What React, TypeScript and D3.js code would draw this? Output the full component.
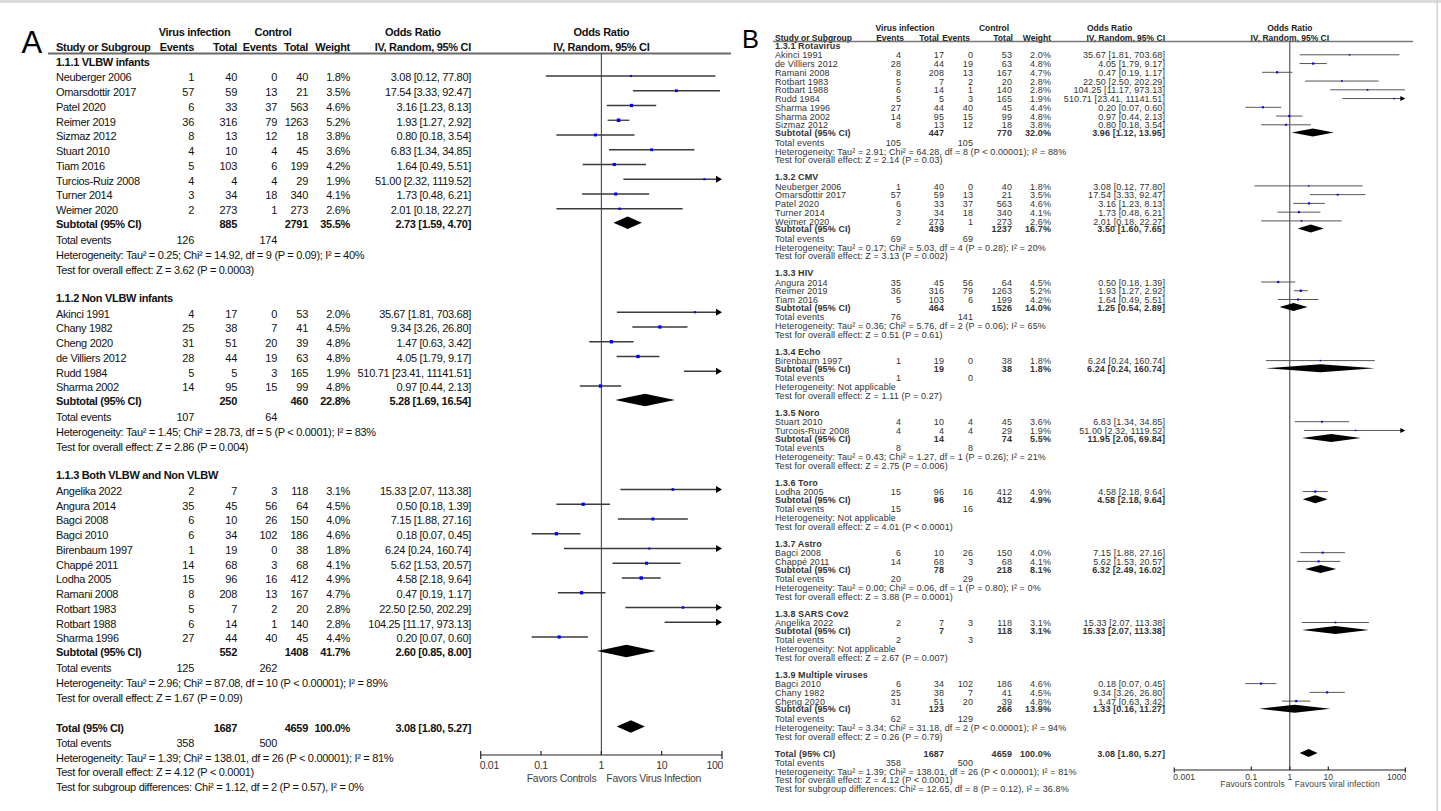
import React from 'react';
import * as d3 from 'd3';

// [study, virus events, virus total, control events, control total, weight %, OR, lower, upper]
const studies: [string, number, number, number, number, number, number, number, number][] = [
  ['Neuberger 2006', 1, 40, 0, 40, 1.8, 3.08, 0.12, 77.8],
  ['Omarsdottir 2017', 57, 59, 13, 21, 3.5, 17.54, 3.33, 92.47],
  ['Patel 2020', 6, 33, 37, 563, 4.6, 3.16, 1.23, 8.13],
  ['Reimer 2019', 36, 316, 79, 1263, 5.2, 1.93, 1.27, 2.92],
  ['Sizmaz 2012', 8, 13, 12, 18, 3.8, 0.8, 0.18, 3.54],
  ['Stuart 2010', 4, 10, 4, 45, 3.6, 6.83, 1.34, 34.85],
  ['Tiam 2016', 5, 103, 6, 199, 4.2, 1.64, 0.49, 5.51],
  ['Turcios-Ruiz 2008', 4, 4, 4, 29, 1.9, 51.0, 2.32, 1119.52],
  ['Turner 2014', 3, 34, 18, 340, 4.1, 1.73, 0.48, 6.21],
  ['Weimer 2020', 2, 273, 1, 273, 2.6, 2.01, 0.18, 22.27],
  ['Akinci 1991', 4, 17, 0, 53, 2.0, 35.67, 1.81, 703.68],
  ['Chany 1982', 25, 38, 7, 41, 4.5, 9.34, 3.26, 26.8],
  ['Cheng 2020', 31, 51, 20, 39, 4.8, 1.47, 0.63, 3.42],
  ['de Villiers 2012', 28, 44, 19, 63, 4.8, 4.05, 1.79, 9.17],
  ['Rudd 1984', 5, 5, 3, 165, 1.9, 510.71, 23.41, 11141.51],
  ['Sharma 2002', 14, 95, 15, 99, 4.8, 0.97, 0.44, 2.13],
  ['Angelika 2022', 2, 7, 3, 118, 3.1, 15.33, 2.07, 113.38],
  ['Angura 2014', 35, 45, 56, 64, 4.5, 0.5, 0.18, 1.39],
  ['Bagci 2008', 6, 10, 26, 150, 4.0, 7.15, 1.88, 27.16],
  ['Bagci 2010', 6, 34, 102, 186, 4.6, 0.18, 0.07, 0.45],
  ['Birenbaum 1997', 1, 19, 0, 38, 1.8, 6.24, 0.24, 160.74],
  ['Chappé 2011', 14, 68, 3, 68, 4.1, 5.62, 1.53, 20.57],
  ['Lodha 2005', 15, 96, 16, 412, 4.9, 4.58, 2.18, 9.64],
  ['Ramani 2008', 8, 208, 13, 167, 4.7, 0.47, 0.19, 1.17],
  ['Rotbart 1983', 5, 7, 2, 20, 2.8, 22.5, 2.5, 202.29],
  ['Rotbart 1988', 6, 14, 1, 140, 2.8, 104.25, 11.17, 973.13],
  ['Sharma 1996', 27, 44, 40, 45, 4.4, 0.2, 0.07, 0.6],
];

// subtotal: [virus total, control total, weight, OR, lower, upper]
const groupsA = [
  {
    title: '1.1.1 VLBW infants',
    members: ['Neuberger 2006', 'Omarsdottir 2017', 'Patel 2020', 'Reimer 2019', 'Sizmaz 2012', 'Stuart 2010', 'Tiam 2016', 'Turcios-Ruiz 2008', 'Turner 2014', 'Weimer 2020'],
    subtotal: [885, 2791, 35.5, 2.73, 1.59, 4.7],
    events: [126, 174],
    het: 'Heterogeneity: Tau² = 0.25; Chi² = 14.92, df = 9 (P = 0.09); I² = 40%',
    test: 'Test for overall effect: Z = 3.62 (P = 0.0003)',
  },
  {
    title: '1.1.2 Non VLBW infants',
    members: ['Akinci 1991', 'Chany 1982', 'Cheng 2020', 'de Villiers 2012', 'Rudd 1984', 'Sharma 2002'],
    subtotal: [250, 460, 22.8, 5.28, 1.69, 16.54],
    events: [107, 64],
    het: 'Heterogeneity: Tau² = 1.45; Chi² = 28.73, df = 5 (P < 0.0001); I² = 83%',
    test: 'Test for overall effect: Z = 2.86 (P = 0.004)',
  },
  {
    title: '1.1.3 Both VLBW and Non VLBW',
    members: ['Angelika 2022', 'Angura 2014', 'Bagci 2008', 'Bagci 2010', 'Birenbaum 1997', 'Chappé 2011', 'Lodha 2005', 'Ramani 2008', 'Rotbart 1983', 'Rotbart 1988', 'Sharma 1996'],
    subtotal: [552, 1408, 41.7, 2.6, 0.85, 8.0],
    events: [125, 262],
    het: 'Heterogeneity: Tau² = 2.96; Chi² = 87.08, df = 10 (P < 0.00001); I² = 89%',
    test: 'Test for overall effect: Z = 1.67 (P = 0.09)',
  },
];

const totalA = {
  subtotal: [1687, 4659, 100.0, 3.08, 1.8, 5.27],
  events: [358, 500],
  het: 'Heterogeneity: Tau² = 1.39; Chi² = 138.01, df = 26 (P < 0.00001); I² = 81%',
  test: 'Test for overall effect: Z = 4.12 (P < 0.0001)',
  diff: 'Test for subgroup differences: Chi² = 1.12, df = 2 (P = 0.57), I² = 0%',
};

const groupsB = [
  {
    title: '1.3.1 Rotavirus',
    members: ['Akinci 1991', 'de Villiers 2012', 'Ramani 2008', 'Rotbart 1983', 'Rotbart 1988', 'Rudd 1984', 'Sharma 1996', 'Sharma 2002', 'Sizmaz 2012'],
    subtotal: [447, 770, 32.0, 3.96, 1.12, 13.95],
    events: [105, 105],
    het: 'Heterogeneity: Tau² = 2.91; Chi² = 64.28, df = 8 (P < 0.00001); I² = 88%',
    test: 'Test for overall effect: Z = 2.14 (P = 0.03)',
  },
  {
    title: '1.3.2 CMV',
    members: ['Neuberger 2006', 'Omarsdottir 2017', 'Patel 2020', 'Turner 2014', 'Weimer 2020'],
    subtotal: [439, 1237, 16.7, 3.5, 1.6, 7.65],
    events: [69, 69],
    het: 'Heterogeneity: Tau² = 0.17; Chi² = 5.03, df = 4 (P = 0.28); I² = 20%',
    test: 'Test for overall effect: Z = 3.13 (P = 0.002)',
  },
  {
    title: '1.3.3 HIV',
    members: ['Angura 2014', 'Reimer 2019', 'Tiam 2016'],
    subtotal: [464, 1526, 14.0, 1.25, 0.54, 2.89],
    events: [76, 141],
    het: 'Heterogeneity: Tau² = 0.36; Chi² = 5.76, df = 2 (P = 0.06); I² = 65%',
    test: 'Test for overall effect: Z = 0.51 (P = 0.61)',
  },
  {
    title: '1.3.4 Echo',
    members: ['Birenbaum 1997'],
    subtotal: [19, 38, 1.8, 6.24, 0.24, 160.74],
    events: [1, 0],
    het: 'Heterogeneity: Not applicable',
    test: 'Test for overall effect: Z = 1.11 (P = 0.27)',
  },
  {
    title: '1.3.5 Noro',
    members: ['Stuart 2010', 'Turcios-Ruiz 2008'],
    subtotal: [14, 74, 5.5, 11.95, 2.05, 69.84],
    events: [8, 8],
    het: 'Heterogeneity: Tau² = 0.43; Chi² = 1.27, df = 1 (P = 0.26); I² = 21%',
    test: 'Test for overall effect: Z = 2.75 (P = 0.006)',
  },
  {
    title: '1.3.6 Toro',
    members: ['Lodha 2005'],
    subtotal: [96, 412, 4.9, 4.58, 2.18, 9.64],
    events: [15, 16],
    het: 'Heterogeneity: Not applicable',
    test: 'Test for overall effect: Z = 4.01 (P < 0.0001)',
  },
  {
    title: '1.3.7 Astro',
    members: ['Bagci 2008', 'Chappé 2011'],
    subtotal: [78, 218, 8.1, 6.32, 2.49, 16.02],
    events: [20, 29],
    het: 'Heterogeneity: Tau² = 0.00; Chi² = 0.06, df = 1 (P = 0.80); I² = 0%',
    test: 'Test for overall effect: Z = 3.88 (P = 0.0001)',
  },
  {
    title: '1.3.8 SARS Cov2',
    members: ['Angelika 2022'],
    subtotal: [7, 118, 3.1, 15.33, 2.07, 113.38],
    events: [2, 3],
    het: 'Heterogeneity: Not applicable',
    test: 'Test for overall effect: Z = 2.67 (P = 0.007)',
  },
  {
    title: '1.3.9 Multiple viruses',
    members: ['Bagci 2010', 'Chany 1982', 'Cheng 2020'],
    subtotal: [123, 266, 13.9, 1.33, 0.16, 11.27],
    events: [62, 129],
    het: 'Heterogeneity: Tau² = 3.34; Chi² = 31.18, df = 2 (P < 0.00001); I² = 94%',
    test: 'Test for overall effect: Z = 0.26 (P = 0.79)',
  },
];

const totalB = {
  subtotal: [1687, 4659, 100.0, 3.08, 1.8, 5.27],
  events: [358, 500],
  het: 'Heterogeneity: Tau² = 1.39; Chi² = 138.01, df = 26 (P < 0.00001); I² = 81%',
  test: 'Test for overall effect: Z = 4.12 (P < 0.0001)',
  diff: 'Test for subgroup differences: Chi² = 12.65, df = 8 (P = 0.12), I² = 36.8%',
};

const renameB: Record<string, string> = { 'Turcios-Ruiz 2008': 'Turcois-Ruiz 2008' };

const ticksA = [0.01, 0.1, 1, 10, 100];
const tickLabelsA = ['0.01', '0.1', '1', '10', '100'];
const ticksB = [0.001, 0.1, 1, 10, 1000];
const tickLabelsB = ['0.001', '0.1', '1', '10', '1000'];

const cfgA = {
  fontSize: 11, ls: -0.3, color: '#111', hdrColor: '#111', hdrFont: 11, hdrLs: -0.3,
  nameX: 56, evR: 194, totR: 237, cevR: 277, ctotR: 308, wR: 350, orR: 471,
  hdr1: 32.3, hdr2: 47.3,
  hdrCols: { virus: 194.5, control: 273, orStart: 385, ev: 194, tot: 237, cev: 277, ctot: 308, w: 350, or: 471 },
  lineY: 53.5, lineX1: 48, lineX2: 731, lineColor: '#6a6a6a', lineW: 2,
  firstHeading: 62, headToStudy: 15.5, step: 14.75, studyToSub: 14, subToTE: 16, teToHet: 15, hetToTest: 14.7, testToNext: 28.3,
  totalExtra: 1.5, totTE: 15, totHet: 15, totTest: 14.5, totDiff: 14.5,
  domain: [0.01, 100], range: [480.7, 722], axisY: 755,
  ticks: ticksA, tickLabels: tickLabelsA, tickFont: 10.5, tickLabelY: 765, favY: 778,
  favL: 'Favors Controls', favR: 'Favors Virus Infection', favColor: '#444',
  markOff: -1.5, diaH: 12.5, sqBase: 1.2, sqK: 0.45, arrowL: 6, arrowW: 3.5, ciW: 1.3, ciColor: '#3a3a3a',
  endTick: [4, 4], innerTick: [4, 0],
  rename: {} as Record<string, string>,
};

const cfgB = {
  fontSize: 9, ls: 0.1, color: '#333', hdrColor: '#222', hdrFont: 8.5, hdrLs: 0,
  nameX: 775, evR: 901, totR: 944, cevR: 973, ctotR: 1012, wR: 1051, orR: 1165,
  hdr1: 28, hdr2: 37.7,
  hdrCols: { virus: 905, control: 994, orStart: 1087, ev: 904, tot: 939, cev: 970, ctot: 1013, w: 1051, or: 1165 },
  lineY: 41.5, lineX1: 773, lineX2: 1413, lineColor: '#777', lineW: 1.5,
  firstHeading: 46, headToStudy: 9.3, step: 8.75, studyToSub: 7.6, subToTE: 9.6, teToHet: 9, hetToTest: 8.6, testToNext: 17,
  totalExtra: 0, totTE: 9.6, totHet: 8.6, totTest: 8.4, totDiff: 9,
  domain: [0.001, 1000], range: [1174.3, 1405.3], axisY: 770,
  ticks: ticksB, tickLabels: tickLabelsB, tickFont: 8.5, tickLabelY: 776.7, favY: 784,
  favL: 'Favours controls', favR: 'Favours viral infection', favColor: '#444',
  markOff: -0.5, diaH: 8, sqBase: 1.0, sqK: 0.25, arrowL: 5, arrowW: 2.5, ciW: 1, ciColor: '#555',
  endTick: [2.5, 2.5], innerTick: [3.5, 0],
  rename: renameB,
};

const f2 = (v: number) => v.toFixed(2);
const orText = (o: number, l: number, h: number) => `${f2(o)} [${f2(l)}, ${f2(h)}]`;

function Panel({ cfg, groups, total }: any) {
  const x = d3.scaleLog().domain(cfg.domain).range(cfg.range);
  const [dmin, dmax] = cfg.domain;
  const els: any[] = [];
  let k = 0;
  const T = (tx: number, ty: number, s: string, anchor = 'start', bold = false, extra: any = {}) => {
    els.push(
      <text key={k++} x={tx} y={ty} dy="0.35em" textAnchor={anchor} fontWeight={bold ? 'bold' : 'normal'}
        fontSize={cfg.fontSize} letterSpacing={cfg.ls} fill={cfg.color} {...extra}>{s}</text>
    );
  };
  const H = cfg.hdrCols;
  const hx = { fill: cfg.hdrColor, fontSize: cfg.hdrFont, letterSpacing: cfg.hdrLs };
  // header
  T(H.virus, cfg.hdr1, 'Virus infection', 'middle', true, hx);
  T(H.control, cfg.hdr1, 'Control', 'middle', true, hx);
  T(H.orStart, cfg.hdr1, 'Odds Ratio', 'start', true, hx);
  T(cfg.nameX, cfg.hdr2, 'Study or Subgroup', 'start', true, hx);
  T(H.ev, cfg.hdr2, 'Events', 'end', true, hx);
  T(H.tot, cfg.hdr2, 'Total', 'end', true, hx);
  T(H.cev, cfg.hdr2, 'Events', 'end', true, hx);
  T(H.ctot, cfg.hdr2, 'Total', 'end', true, hx);
  T(H.w, cfg.hdr2, 'Weight', 'end', true, hx);
  T(H.or, cfg.hdr2, 'IV, Random, 95% CI', 'end', true, hx);
  T(x(1), cfg.hdr1, 'Odds Ratio', 'middle', true, hx);
  T(x(1), cfg.hdr2, 'IV, Random, 95% CI', 'middle', true, hx);
  els.push(<line key={k++} x1={cfg.lineX1} x2={cfg.lineX2} y1={cfg.lineY} y2={cfg.lineY} stroke={cfg.lineColor} strokeWidth={cfg.lineW} />);
  // centre line
  els.push(<line key={k++} x1={x(1)} x2={x(1)} y1={cfg.lineY} y2={cfg.axisY} stroke="#333" strokeWidth={1} />);

  const diamond = (yy: number, o: number, l: number, h: number) => {
    const yc = yy + cfg.markOff;
    const pts = [[x(l), yc], [x(o), yc - cfg.diaH / 2], [x(h), yc], [x(o), yc + cfg.diaH / 2]];
    els.push(<polygon key={k++} points={pts.map((p) => p.join(',')).join(' ')} fill="#000" />);
  };

  const summary = (yy: number, label: string, sub: number[]) => {
    T(cfg.nameX, yy, label, 'start', true);
    T(cfg.totR, yy, String(sub[0]), 'end', true);
    T(cfg.ctotR, yy, String(sub[1]), 'end', true);
    T(cfg.wR, yy, `${sub[2].toFixed(1)}%`, 'end', true);
    T(cfg.orR, yy, orText(sub[3], sub[4], sub[5]), 'end', true);
    diamond(yy, sub[3], sub[4], sub[5]);
  };

  let y = cfg.firstHeading;
  groups.forEach((g: any) => {
    T(cfg.nameX, y, g.title, 'start', true);
    y += cfg.headToStudy;
    g.members.forEach((m: string, i: number) => {
      if (i > 0) y += cfg.step;
      const s = studies.find((r) => r[0] === m)!;
      const [, ev, tot, cev, ctot, w, o, lo, hi] = s;
      T(cfg.nameX, y, cfg.rename[m] || m);
      T(cfg.evR, y, String(ev), 'end');
      T(cfg.totR, y, String(tot), 'end');
      T(cfg.cevR, y, String(cev), 'end');
      T(cfg.ctotR, y, String(ctot), 'end');
      T(cfg.wR, y, `${w.toFixed(1)}%`, 'end');
      T(cfg.orR, y, orText(o, lo, hi), 'end');
      const yc = y + cfg.markOff;
      const arrow = hi > dmax;
      const xa = x(Math.max(lo, dmin));
      const xb = arrow ? x(dmax) - cfg.arrowL + 1 : x(hi);
      els.push(<line key={k++} x1={xa} x2={xb} y1={yc} y2={yc} stroke={cfg.ciColor} strokeWidth={cfg.ciW} />);
      if (arrow) {
        const xe = x(dmax);
        els.push(<polygon key={k++} points={`${xe},${yc} ${xe - cfg.arrowL},${yc - cfg.arrowW} ${xe - cfg.arrowL},${yc + cfg.arrowW}`} fill="#000" />);
      }
      if (o >= dmin && o <= dmax) {
        const sz = cfg.sqBase + w * cfg.sqK;
        els.push(<rect key={k++} x={x(o) - sz / 2} y={yc - sz / 2} width={sz} height={sz} fill="#0000ff" />);
      }
    });
    y += cfg.studyToSub;
    summary(y, 'Subtotal (95% CI)', g.subtotal);
    y += cfg.subToTE;
    T(cfg.nameX, y, 'Total events');
    T(cfg.evR, y, String(g.events[0]), 'end');
    T(cfg.cevR, y, String(g.events[1]), 'end');
    y += cfg.teToHet;
    T(cfg.nameX, y, g.het);
    y += cfg.hetToTest;
    T(cfg.nameX, y, g.test);
    y += cfg.testToNext;
  });
  y += cfg.totalExtra;
  summary(y, 'Total (95% CI)', total.subtotal);
  y += cfg.totTE;
  T(cfg.nameX, y, 'Total events');
  T(cfg.evR, y, String(total.events[0]), 'end');
  T(cfg.cevR, y, String(total.events[1]), 'end');
  y += cfg.totHet;
  T(cfg.nameX, y, total.het);
  y += cfg.totTest;
  T(cfg.nameX, y, total.test);
  y += cfg.totDiff;
  T(cfg.nameX, y, total.diff);

  // axis
  const [r0, r1] = cfg.range;
  els.push(<line key={k++} x1={r0} x2={r1} y1={cfg.axisY} y2={cfg.axisY} stroke="#222" strokeWidth={1.2} />);
  cfg.ticks.forEach((t: number, i: number) => {
    const end = i === 0 || i === cfg.ticks.length - 1;
    const [up, down] = end ? cfg.endTick : cfg.innerTick;
    els.push(<line key={k++} x1={x(t)} x2={x(t)} y1={cfg.axisY - up} y2={cfg.axisY + down} stroke="#222" strokeWidth={1.2} />);
    const anchor = i === 0 ? 'start' : end ? 'end' : 'middle';
    els.push(
      <text key={k++} x={x(t) + (i === 0 ? -1 : end ? 1 : 0)} y={cfg.tickLabelY} dy="0.35em" textAnchor={anchor}
        fontSize={cfg.tickFont} letterSpacing={cfg.ls} fill="#333">{cfg.tickLabels[i]}</text>
    );
  });
  els.push(<text key={k++} x={x(1) - 5} y={cfg.favY} dy="0.35em" textAnchor="end" fontSize={cfg.tickFont} letterSpacing={cfg.ls} fill={cfg.favColor}>{cfg.favL}</text>);
  els.push(<text key={k++} x={x(1) + 5} y={cfg.favY} dy="0.35em" textAnchor="start" fontSize={cfg.tickFont} letterSpacing={cfg.ls} fill={cfg.favColor}>{cfg.favR}</text>);
  return <g>{els}</g>;
}

export default function App() {
  return (
    <svg width={1441} height={811} style={{ position: 'absolute', left: 0, top: 0, background: '#fff' }}
      fontFamily="'Liberation Sans', Arial, sans-serif">
      <rect x={0} y={0} width={1441} height={811} fill="#fff" />
      <rect x={0} y={0} width={1441} height={3} fill="#dcdcdc" />
      <rect x={1436.5} y={0} width={1.5} height={811} fill="#d0d0d0" />
      <text x={21.5} y={53.3} fontSize={31} fill="#000">A</text>
      <text x={742} y={48} fontSize={25.5} fill="#000">B</text>
      <Panel cfg={cfgA} groups={groupsA} total={totalA} />
      <Panel cfg={cfgB} groups={groupsB} total={totalB} />
    </svg>
  );
}
